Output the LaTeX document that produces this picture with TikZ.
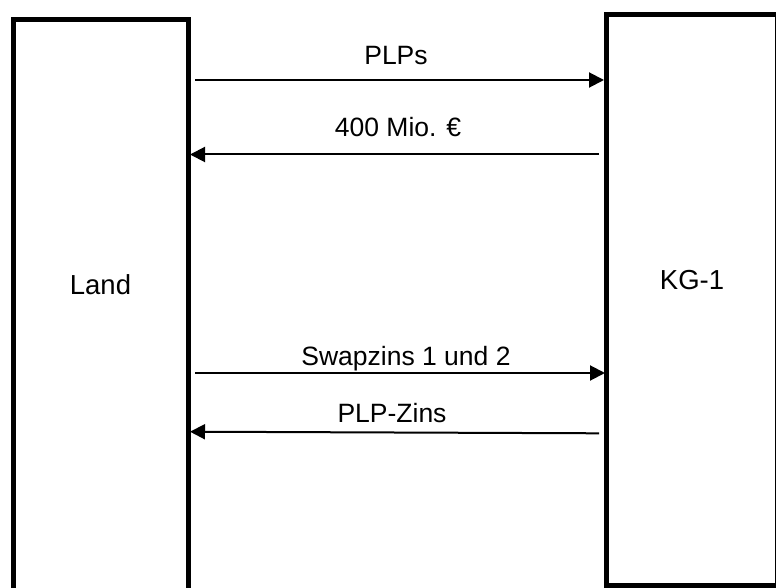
\documentclass[tikz,border=0pt]{standalone}
\usepackage{fontspec}
\setmainfont{Liberation Sans}
\usetikzlibrary{arrows.meta}
\begin{document}
\begin{tikzpicture}[x=1pt,y=1pt,
  boxst/.style={draw=black,line width=5pt,inner sep=0pt,outer sep=0pt,anchor=north west},
  arr/.style={draw=black,line width=2pt,-{Triangle[length=15pt,width=15pt]}},
  lbl/.style={anchor=base,inner sep=0pt,font=\fontsize{26.5}{30}\selectfont},
  btxt/.style={anchor=base,inner sep=0pt,font=\fontsize{27.5}{32}\selectfont}]
\useasboundingbox (0,0) rectangle (776,587);
\clip (0,0) rectangle (776,587);
\node[boxst,minimum width=174.5pt,minimum height=587.5pt] (land) at (13.5,567.5) {};
\node[boxst,minimum width=171pt,minimum height=570.5pt] (kg) at (606.5,572.5) {};
\node[btxt] (landtxt) at (100.5,292) {Land};
\node[btxt] (kgtxt) at (692,297.7) {KG-1};
\draw[arr] ([xshift=7pt]land.east |- 0,507) -- ([xshift=-2.5pt]kg.west |- 0,507);
\draw[arr] ([xshift=-7.5pt]kg.west |- 0,432.5) -- ([xshift=2pt]land.east |- 0,432.5);
\draw[arr] ([xshift=7pt]land.east |- 0,214) -- ([xshift=-1.5pt]kg.west |- 0,214);
\draw[arr] ([xshift=-7.5pt]kg.west |- 0,153.7) -- ([xshift=2pt]land.east |- 0,155.3);
\node[lbl] (l1) at (396,522) {PLPs};
\node[lbl] (l2) at (398,450) {400 Mio. €};
\node[lbl] (l3) at (406,222) {Swapzins 1 und 2};
\node[lbl] (l4) at (392,164.3) {PLP-Zins};
\end{tikzpicture}
\end{document}
